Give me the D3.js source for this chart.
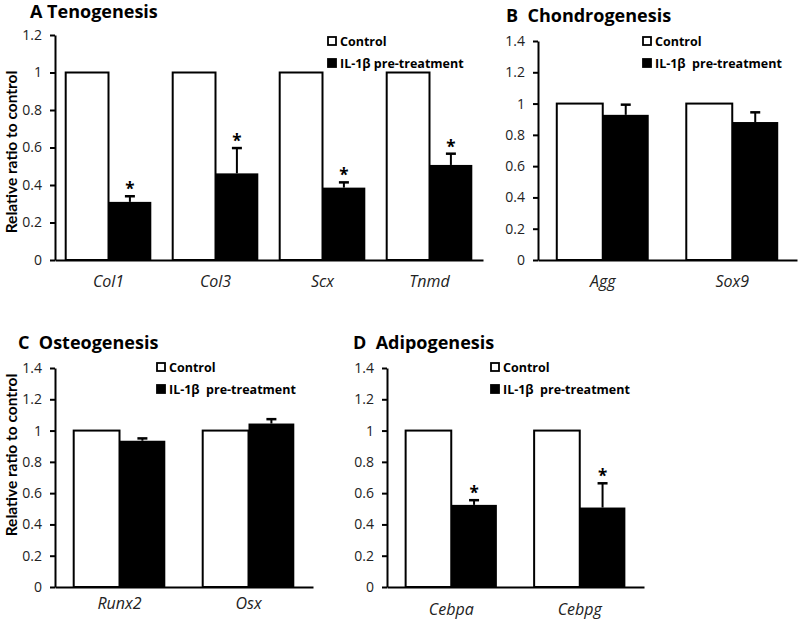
<!DOCTYPE html>
<html>
<head>
<meta charset="utf-8">
<script src="https://cdn.jsdelivr.net/npm/d3@7"></script>
<style>
  body { margin: 0; background: #fff; }
  svg { font-family: "Open Sans", Lato, sans-serif; }
  .domain { stroke: #000; stroke-width: 2px; }
  .tick line { stroke: #000; stroke-width: 2px; }
  .legend text { white-space: pre; }
</style>
</head>
<body>
<svg id="chart" width="800" height="625"></svg>
<script>
// A - tenogenesis
const tenoGenes = ["Col1", "Col3", "Scx", "Tnmd"];
const tenoControl = [1, 1, 1, 1];
const tenoIL = [0.31, 0.462, 0.386, 0.507];
const tenoErr = [0.03, 0.135, 0.028, 0.06];
const tenoSig = [true, true, true, true];
const tenoTicks = [0, 0.2, 0.4, 0.6, 0.8, 1, 1.2];

// B - chondrogenesis
const chondroGenes = ["Agg", "Sox9"];
const chondroControl = [1, 1];
const chondroIL = [0.928, 0.882];
const chondroErr = [0.065, 0.062];
const chondroSig = [false, false];

// C - osteogenesis
const osteoGenes = ["Runx2", "Osx"];
const osteoControl = [1, 1];
const osteoIL = [0.935, 1.045];
const osteoErr = [0.015, 0.028];
const osteoSig = [false, false];

// D - adipogenesis
const adipoGenes = ["Cebpa", "Cebpg"];
const adipoControl = [1, 1];
const adipoIL = [0.525, 0.508];
const adipoErr = [0.03, 0.155];
const adipoSig = [true, true];

const ticks14 = [0, 0.2, 0.4, 0.6, 0.8, 1, 1.2, 1.4];
const seriesNames = ["Control", "IL-1\u03b2 pre-treatment"];
const seriesNames2 = ["Control", "IL-1\u03b2  pre-treatment"];

const svg = d3.select("#chart");

function panel (opt) {
  const g = svg.append("g");

  const y = d3.scaleLinear()
    .domain([0, opt.max])
    .range([opt.bottom, opt.top]);

  const x0 = d3.scaleBand()
    .domain(opt.genes)
    .range([opt.left, opt.right])
    .paddingInner(opt.padIn)
    .paddingOuter(opt.padOut);

  const x1 = d3.scaleBand()
    .domain(["ctrl", "il"])
    .range([0, x0.bandwidth()]);

  const rows = opt.genes.map((d, i) => {
    return { gene: d, ctrl: opt.control[i], il: opt.il[i], err: opt.err[i], sig: opt.sig[i] };
  });

  // bars
  g.selectAll(".ctrl")
    .data(rows)
    .enter().append("rect")
    .attr("class", "ctrl")
    .attr("x", (d) => x0(d.gene) + x1("ctrl"))
    .attr("y", (d) => y(d.ctrl))
    .attr("width", x1.bandwidth())
    .attr("height", (d) => y(0) - y(d.ctrl))
    .attr("fill", "#fff")
    .attr("stroke", "#000")
    .attr("stroke-width", 2);

  g.selectAll(".il")
    .data(rows)
    .enter().append("rect")
    .attr("class", "il")
    .attr("x", (d) => x0(d.gene) + x1("il"))
    .attr("y", (d) => y(d.il))
    .attr("width", x1.bandwidth())
    .attr("height", (d) => y(0) - y(d.il))
    .attr("fill", "#000");

  // upper error bars
  const cx = (d) => x0(d.gene) + x1("il") + x1.bandwidth() / 2;
  g.selectAll(".err")
    .data(rows)
    .enter().append("line")
    .attr("x1", cx).attr("x2", cx)
    .attr("y1", (d) => y(d.il))
    .attr("y2", (d) => y(d.il + d.err))
    .attr("stroke", "#000")
    .attr("stroke-width", 2);

  g.selectAll(".cap")
    .data(rows)
    .enter().append("line")
    .attr("x1", (d) => cx(d) - 5).attr("x2", (d) => cx(d) + 5)
    .attr("y1", (d) => y(d.il + d.err))
    .attr("y2", (d) => y(d.il + d.err))
    .attr("stroke", "#000")
    .attr("stroke-width", 2.5);

  g.selectAll(".star")
    .data(rows.filter((d) => d.sig))
    .enter().append("text")
    .attr("x", cx)
    .attr("y", (d) => y(d.il + d.err) - 1)
    .attr("text-anchor", "middle")
    .attr("font-size", 17)
    .attr("font-weight", "bold")
    .text("*");

  // axes
  g.append("g")
    .attr("transform", "translate(" + opt.left + ",0)")
    .call(d3.axisLeft(y).tickValues(opt.ticks).tickSize(5).tickSizeOuter(0).tickPadding(8).tickFormat(d3.format("~g")))
    .call((a) => a.selectAll("text").attr("font-size", 14).attr("font-family", "'Open Sans', sans-serif").attr("fill", "#222"));

  g.append("g")
    .attr("transform", "translate(0," + opt.bottom + ")")
    .call(d3.axisBottom(x0).tickSize(0).tickSizeOuter(0).tickPadding(opt.labelPad))
    .call((a) => a.selectAll("text")
      .attr("font-size", 16)
      .attr("font-style", "italic")
      .attr("font-family", "'Open Sans', sans-serif")
      .attr("fill", "#222"));

  // title
  g.append("text")
    .attr("x", opt.titleX)
    .attr("y", opt.titleY)
    .attr("font-size", opt.titleSize)
    .attr("font-weight", "bold")
    .style("white-space", "pre")
    .text(opt.title);

  if (opt.yLabel) {
    g.append("text")
      .attr("transform", "translate(17," + opt.yLabel + ") rotate(-90)")
      .attr("text-anchor", "middle")
      .attr("font-size", 15.5)
      .attr("font-family", "Lato, sans-serif")
      .attr("font-weight", "bold")
      .text("Relative ratio to control");
  }

  // legend
  const leg = g.append("g").attr("class", "legend");
  opt.names.forEach((n, i) => {
    const ly = opt.legY + i * 22;
    leg.append("rect")
      .attr("x", opt.legX + 1)
      .attr("y", ly - 4)
      .attr("width", 8)
      .attr("height", 8)
      .attr("fill", i === 0 ? "#fff" : "#000")
      .attr("stroke", "#000")
      .attr("stroke-width", 1.8);
    leg.append("text")
      .attr("x", opt.legX + 13)
      .attr("y", ly + 5)
      .attr("font-size", 12.5)
      .attr("font-weight", "bold")
      .text(n);
  });
}

panel({
  genes: tenoGenes, control: tenoControl, il: tenoIL, err: tenoErr, sig: tenoSig,
  max: 1.2, ticks: tenoTicks, left: 55, right: 483, top: 35, bottom: 260,
  padIn: 0.2, padOut: 0.1, labelPad: 16,
  title: "A Tenogenesis", titleX: 30, titleY: 18, titleSize: 18, yLabel: 152,
  names: seriesNames, legX: 327, legY: 41
});

panel({
  genes: chondroGenes, control: chondroControl, il: chondroIL, err: chondroErr, sig: chondroSig,
  max: 1.4, ticks: ticks14, left: 538, right: 797, top: 41, bottom: 260,
  padIn: 0.29, padOut: 0.145, labelPad: 16,
  title: "B  Chondrogenesis", titleX: 506, titleY: 22, titleSize: 18, yLabel: null,
  names: seriesNames2, legX: 642, legY: 41
});

panel({
  genes: osteoGenes, control: osteoControl, il: osteoIL, err: osteoErr, sig: osteoSig,
  max: 1.4, ticks: ticks14, left: 55, right: 313, top: 368, bottom: 587,
  padIn: 0.29, padOut: 0.145, labelPad: 11,
  title: "C  Osteogenesis", titleX: 18, titleY: 349, titleSize: 18, yLabel: 455,
  names: seriesNames2, legX: 156, legY: 367
});

panel({
  genes: adipoGenes, control: adipoControl, il: adipoIL, err: adipoErr, sig: adipoSig,
  max: 1.4, ticks: ticks14, left: 387, right: 644, top: 368, bottom: 587,
  padIn: 0.29, padOut: 0.145, labelPad: 17,
  title: "D  Adipogenesis", titleX: 353, titleY: 349, titleSize: 18, yLabel: null,
  names: seriesNames2, legX: 490, legY: 367
});
</script>
</body>
</html>
